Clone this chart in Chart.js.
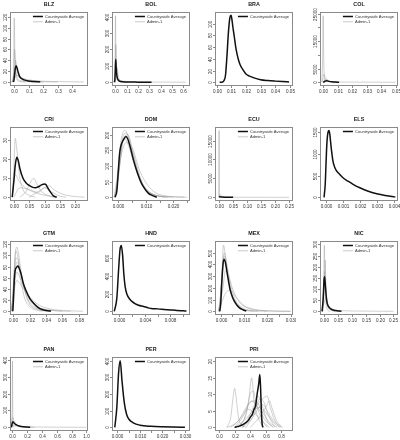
<!DOCTYPE html>
<html lang="en">
<head>
<meta charset="UTF-8">
<title>Density by country</title>
<script src="https://cdn.jsdelivr.net/npm/chart.js"></script>
<style>
  body { margin: 0; background: #fff; }
  #wrap { position: relative; width: 400px; height: 440px; overflow: hidden; }
  #wrap canvas { position: absolute; }
</style>
</head>
<body>
<div id="wrap"></div>
<script>
// panel settings, one entry per country
const countries = ['BLZ','BOL','BRA','COL','CRI','DOM','ECU','ELS','GTM','HND','MEX','NIC','PAN','PER','PRI'];
const hasAdmin = [true,true,false,true,true,true,true,false,true,false,true,true,true,false,true];
const xRange = [[-0.02,0.5],[-0.02,0.65],[-0.0005,0.0515],[-0.0015,0.051],[-0.009,0.238],[-0.0019,0.0257],
  [-0.011,0.26],[-0.0003,0.0042],[-0.003,0.09],[-0.001,0.0109],[-0.002,0.0306],[-0.012,0.263],
  [-0.02,1.01],[-0.002,0.0318],[-0.04,0.94]];
const yRange = [[-5.5,127],[-17,422],[-4.6,118],[-1000,25200],[-1.5,36.5],[-9,221],[-700,18300],
  [-60,1590],[-5,124],[-30,785],[-23,592],[-12,311],[-16,412],[-16,416],[-0.8,21]];
const xTicks = [
  [0,0.1,0.2,0.3,0.4],
  [0,0.1,0.2,0.3,0.4,0.5,0.6],
  [0,0.01,0.02,0.03,0.04,0.05],
  [0,0.01,0.02,0.03,0.04,0.05],
  [0,0.05,0.1,0.15,0.2],
  [0,0.005,0.01,0.015,0.02,0.025],
  [0,0.05,0.1,0.15,0.2,0.25],
  [0,0.001,0.002,0.003,0.004],
  [0,0.02,0.04,0.06,0.08],
  [0,0.002,0.004,0.006,0.008,0.01],
  [0,0.005,0.01,0.015,0.02,0.025,0.03],
  [0,0.05,0.1,0.15,0.2,0.25],
  [0,0.2,0.4,0.6,0.8,1.0],
  [0,0.005,0.01,0.015,0.02,0.025,0.03],
  [0,0.2,0.4,0.6,0.8]
];
const xDigits = [1,1,2,2,2,3,2,3,2,3,3,2,1,3,1];
const xLabelEvery = [1,1,1,1,1,2,1,1,1,2,2,1,1,2,1];
const yTicks = [
  [0,20,40,60,80,100,120],
  [0,100,200,300,400],
  [0,20,40,60,80,100],
  [0,5000,10000,15000,20000,25000],
  [0,10,20,30],
  [0,50,100,150,200],
  [0,5000,10000,15000],
  [0,500,1000,1500],
  [0,20,40,60,80,100,120],
  [0,200,400,600],
  [0,100,200,300,400,500],
  [0,50,100,150,200,250,300],
  [0,100,200,300,400],
  [0,100,200,300,400],
  [0,5,10,15,20]
];
const yHidden = [[],[],[],[10000,20000],[],[],[],[],[],[],[],[],[],[],[]];

// countrywide average curves [x, density]
const BLZ_avg = [[-0.005,0],[0,3],[0.005,15],[0.01,26],[0.015,30],[0.02,27],[0.03,17],[0.04,10],[0.05,7],[0.07,4],[0.1,2],[0.14,1],[0.18,0.5]];
const BOL_avg = [[-0.005,0],[0,60],[0.004,140],[0.008,90],[0.015,35],[0.03,10],[0.05,4],[0.1,1.5],[0.2,0.5],[0.32,0]];
const BRA_avg = [[0.002,0],[0.004,0.5],[0.005,3],[0.006,12],[0.007,45],[0.008,85],[0.009,110],[0.0098,114],[0.0105,105],
  [0.011,95],[0.012,78],[0.013,60],[0.014,47],[0.015,37],[0.016,30],[0.018,21],[0.02,14],[0.022,11],[0.025,8],[0.03,4.5],
  [0.035,3],[0.04,2],[0.045,1.2],[0.0495,0.6]];
const COL_avg = [[0,0],[0.001,250],[0.002,550],[0.003,480],[0.004,320],[0.006,150],[0.008,60],[0.011,0]];
const CRI_avg = [[-0.005,0],[0,8],[0.005,17],[0.01,21],[0.015,19],[0.02,15],[0.03,10],[0.04,7.5],[0.05,6.2],[0.06,5.3],
  [0.07,5],[0.08,5.5],[0.09,6.5],[0.1,7],[0.105,6.5],[0.11,5],[0.12,2.5],[0.13,0.5],[0.14,0]];
const DOM_avg = [[-0.0012,0],[-0.0005,20],[0,80],[0.0005,140],[0.001,165],[0.002,185],[0.0028,194],[0.0035,185],[0.0045,155],
  [0.0055,120],[0.0065,90],[0.0079,55],[0.009,35],[0.0109,13],[0.0125,5],[0.014,0]];
const ECU_avg = [[0,0],[0.002,150],[0.005,120],[0.01,60],[0.02,20],[0.035,5],[0.05,0]];
const ELS_avg = [[-0.00012,0],[-0.00005,300],[0,800],[0.00005,1250],[0.00012,1500],[0.00017,1530],[0.00022,1450],[0.0003,1150],
  [0.0004,850],[0.0005,700],[0.0006,620],[0.0008,530],[0.001,450],[0.0013,370],[0.0016,300],[0.002,220],[0.0025,140],
  [0.003,85],[0.0035,45],[0.004,15],[0.0041,10]];
const GTM_avg = [[-0.0008,0],[0,20],[0.001,55],[0.002,72],[0.004,79],[0.0055,81],[0.007,77],[0.0095,66],[0.012,50],[0.016,35],
  [0.02,23],[0.025,14],[0.03,7],[0.035,3],[0.04,1.2],[0.046,0.3]];
const HND_avg = [[-0.0008,0],[-0.0004,150],[-0.0001,500],[0.0001,700],[0.0003,745],[0.0005,640],[0.0007,420],[0.0009,280],
  [0.0012,190],[0.0016,140],[0.002,110],[0.0025,85],[0.003,70],[0.0038,55],[0.0045,40],[0.005,32],[0.006,28],[0.007,22],
  [0.008,16],[0.009,10],[0.01,6],[0.0105,4]];
const MEX_avg = [[-0.0004,0],[0,60],[0.0005,250],[0.001,400],[0.0015,445],[0.002,420],[0.003,300],[0.004,190],[0.005,125],
  [0.006,82],[0.007,52],[0.008,32],[0.009,18],[0.01,9],[0.011,3]];
const NIC_avg = [[-0.008,0],[-0.004,60],[-0.001,140],[0.001,155],[0.003,130],[0.006,80],[0.009,45],[0.012,30],[0.018,17],
  [0.025,10],[0.035,5],[0.045,3],[0.055,1.5],[0.062,0.5]];
const PAN_avg = [[-0.015,0],[-0.005,20],[0.005,33],[0.02,26],[0.04,18],[0.06,13],[0.09,8],[0.12,5],[0.15,3],[0.2,1.5],[0.24,0.5]];
const PER_avg = [[-0.0012,0],[-0.0003,120],[0.0005,330],[0.0012,400],[0.002,280],[0.003,150],[0.004,80],[0.005,50],[0.007,27],
  [0.01,13],[0.015,6],[0.02,3],[0.025,1.5],[0.03,0.5]];
const PRI_avg = [[0.2,0],[0.25,0.3],[0.3,0.8],[0.35,1.5],[0.38,2.2],[0.4,3],[0.43,4],[0.45,5.5],[0.47,6.5],[0.49,10],
  [0.51,13],[0.525,16],[0.535,12],[0.545,5],[0.555,1],[0.565,0]];

// Admin-1 curves
const BLZ_adm = [
  [[-0.008,0],[-0.002,30],[0.002,118],[0.006,60],[0.01,20],[0.02,5],[0.04,1],[0.08,0]],
  [[-0.01,0],[0,20],[0.004,60],[0.01,35],[0.02,10],[0.04,3],[0.1,0.5],[0.2,0]],
  [[-0.01,0],[0.005,25],[0.012,40],[0.02,25],[0.04,8],[0.08,2],[0.15,0]],
  [[-0.02,0],[0,5],[0.02,12],[0.05,8],[0.1,4],[0.2,1.5],[0.3,0.8],[0.48,0]],
  [[-0.01,0],[0.01,15],[0.03,10],[0.06,5],[0.1,2],[0.2,0.5],[0.3,0]]
];
const BOL_adm = [
  [[-0.005,0],[-0.001,200],[0.002,405],[0.005,200],[0.01,40],[0.03,5],[0.06,0]],
  [[-0.01,0],[0,100],[0.005,230],[0.012,80],[0.03,10],[0.08,0]],
  [[-0.01,0],[0.005,60],[0.015,90],[0.03,30],[0.06,5],[0.12,0]],
  [[-0.02,0],[0.01,20],[0.05,8],[0.15,3],[0.3,1],[0.62,0]]
];
const COL_adm = [
  [[-0.001,0],[-0.0004,8000],[0,24200],[0.0004,8000],[0.001,0]],
  [[0,0],[0.002,1200],[0.005,300],[0.02,50],[0.05,0]],
  [[-0.0005,0],[0.0005,3000],[0.0015,1500],[0.004,200],[0.01,0]]
];
const CRI_adm = [
  [[-0.005,0],[0,15],[0.005,31],[0.01,25],[0.02,10],[0.03,4],[0.05,1],[0.07,0]],
  [[0.02,0],[0.04,3],[0.055,8],[0.065,10],[0.075,7],[0.09,3],[0.11,1],[0.13,0]],
  [[0.05,0],[0.08,3],[0.1,5],[0.115,6],[0.13,4],[0.16,1.5],[0.2,0.3],[0.23,0]],
  [[0,0],[0.02,5],[0.05,4],[0.08,2.5],[0.1,5],[0.12,3],[0.15,0.5],[0.17,0]],
  [[-0.005,0],[0.005,12],[0.015,9],[0.03,6],[0.06,3],[0.1,1],[0.14,0]]
];
const DOM_adm = [
  [[-0.0015,0],[0,90],[0.001,180],[0.0025,213],[0.004,180],[0.006,110],[0.008,55],[0.011,15],[0.015,3],[0.02,0]],
  [[-0.001,0],[0.0005,120],[0.002,200],[0.003,205],[0.005,150],[0.007,85],[0.01,25],[0.014,5],[0.018,0]],
  [[-0.001,0],[0.001,130],[0.003,175],[0.005,160],[0.008,80],[0.012,25],[0.016,6],[0.024,0]],
  [[-0.0015,0],[0,60],[0.0015,170],[0.0035,200],[0.0055,140],[0.0085,50],[0.012,12],[0.02,1],[0.025,0]],
  [[-0.001,0],[0.0005,100],[0.002,190],[0.0035,170],[0.006,100],[0.009,40],[0.013,8],[0.017,0]]
];
const ECU_adm = [
  [[-0.001,0],[0,17600],[0.001,0]],
  [[0,0],[0.003,800],[0.01,200],[0.05,30],[0.25,0]]
];
const GTM_adm = [
  [[-0.002,0],[0,50],[0.002,100],[0.004,115],[0.006,105],[0.01,65],[0.015,30],[0.02,12],[0.03,3],[0.04,0]],
  [[-0.002,0],[0,40],[0.003,95],[0.006,90],[0.01,60],[0.015,32],[0.02,15],[0.03,4],[0.045,0]],
  [[-0.002,0],[0.001,45],[0.004,70],[0.008,60],[0.014,38],[0.02,22],[0.03,8],[0.045,2],[0.06,0]],
  [[-0.001,0],[0.001,70],[0.003,108],[0.005,100],[0.009,55],[0.014,22],[0.02,8],[0.03,1],[0.035,0]],
  [[-0.003,0],[0,30],[0.004,55],[0.01,45],[0.02,25],[0.03,12],[0.045,4],[0.065,1],[0.085,0]],
  [[-0.002,0],[0.001,60],[0.004,88],[0.008,75],[0.013,45],[0.02,20],[0.03,6],[0.05,1],[0.07,0]]
];
const MEX_adm = [
  [[-0.0005,0],[0.0005,300],[0.0012,565],[0.002,480],[0.003,320],[0.005,120],[0.008,30],[0.012,5],[0.016,0]],
  [[-0.0008,0],[0.0005,250],[0.0015,500],[0.0025,420],[0.004,250],[0.006,110],[0.009,35],[0.013,8],[0.02,0]],
  [[-0.001,0],[0.001,200],[0.002,350],[0.0035,300],[0.005,200],[0.008,80],[0.012,25],[0.018,5],[0.03,0]],
  [[-0.0005,0],[0.0008,380],[0.0015,470],[0.0025,380],[0.004,200],[0.007,60],[0.01,15],[0.014,0]],
  [[-0.001,0],[0.002,150],[0.004,180],[0.007,110],[0.01,50],[0.015,15],[0.022,3],[0.03,0]]
];
const NIC_adm = [
  [[-0.006,0],[-0.002,150],[0,296],[0.002,200],[0.005,60],[0.01,10],[0.02,0]],
  [[-0.008,0],[-0.003,80],[0.001,180],[0.004,120],[0.01,40],[0.02,10],[0.04,2],[0.06,0]],
  [[-0.01,0],[0,40],[0.005,60],[0.015,25],[0.03,8],[0.06,3],[0.15,1],[0.25,0]],
  [[-0.005,0],[0,100],[0.003,230],[0.006,110],[0.012,25],[0.025,4],[0.04,0]]
];
const PAN_adm = [
  [[-0.01,0],[-0.003,150],[0,395],[0.003,150],[0.01,0]],
  [[-0.02,0],[0,60],[0.02,40],[0.06,15],[0.12,4],[0.2,1],[0.3,0]],
  [[-0.02,0],[0.01,10],[0.05,8],[0.1,5],[0.2,3],[0.4,1.5],[0.7,0.8],[1.0,0]]
];
const PRI_adm = [
  [[0.1,0],[0.15,3],[0.18,9],[0.2,11.8],[0.22,9],[0.25,3],[0.3,0.5],[0.35,0]],
  [[0.25,0],[0.33,3],[0.38,8],[0.42,15],[0.45,8],[0.5,3],[0.58,0]],
  [[0.3,0],[0.4,3],[0.5,7],[0.58,9],[0.62,9.5],[0.66,6],[0.72,2],[0.8,0]],
  [[0.15,0],[0.25,2],[0.35,6],[0.42,8],[0.5,6],[0.6,2],[0.7,0]],
  [[0.2,0],[0.3,3],[0.4,7.5],[0.47,8],[0.55,5],[0.65,1.5],[0.75,0]],
  [[0.3,0],[0.42,2.5],[0.5,5.5],[0.56,7],[0.62,5],[0.7,2],[0.8,0]],
  [[0.1,0],[0.2,1],[0.3,3.5],[0.37,5.5],[0.45,4.5],[0.55,2],[0.65,0]],
  [[0.35,0],[0.45,4],[0.52,8.5],[0.57,8],[0.63,4],[0.72,0]],
  [[0.25,0],[0.35,4],[0.4,10],[0.44,11],[0.48,7],[0.56,2],[0.62,0]],
  [[0.4,0],[0.5,2.5],[0.6,6],[0.65,8],[0.68,6],[0.74,2],[0.82,0]],
  [[0.2,0],[0.32,2],[0.44,5],[0.52,6],[0.6,4.5],[0.7,1.5],[0.78,0]],
  [[0.3,0],[0.38,3],[0.45,6.5],[0.5,9.5],[0.55,7],[0.62,2],[0.7,0]]
];

const avgCurves = [BLZ_avg,BOL_avg,BRA_avg,COL_avg,CRI_avg,DOM_avg,ECU_avg,ELS_avg,GTM_avg,HND_avg,MEX_avg,NIC_avg,PAN_avg,PER_avg,PRI_avg];
const admCurves = [BLZ_adm,BOL_adm,[],COL_adm,CRI_adm,DOM_adm,ECU_adm,[],GTM_adm,[],MEX_adm,NIC_adm,PAN_adm,[],PRI_adm];

// layout of the 4x4 grid (plot box corners)
const BOX_LEFT = [11, 113, 216, 321];
const BOX_TOP = [13, 128, 242, 358];
const BOX_W = 76, BOX_H = 72;
const PAD = { left: 12, top: 13, right: 4, bottom: 11 };
const FONT = '"Liberation Sans", Arial, sans-serif';
const GREY = 'rgba(150,150,150,0.45)';

const toXY = pts => pts.map(p => ({ x: p[0], y: p[1] }));

// draws the R-style box, axes, title and legend
const panelDecor = {
  id: 'panelDecor',
  afterDraw(chart, args, o) {
    const { ctx, chartArea: a, scales: { x, y } } = chart;
    const i = o.idx;
    ctx.save();
    ctx.strokeStyle = '#8a8a8a';
    ctx.lineWidth = 1;
    ctx.strokeRect(a.left - 0.5, a.top - 0.5, a.width + 1, a.height + 1);

    ctx.fillStyle = '#333';
    ctx.font = '4.6px ' + FONT;
    ctx.textAlign = 'center';
    ctx.textBaseline = 'middle';
    xTicks[i].forEach((v, k) => {
      const px = Math.round(x.getPixelForValue(v)) + 0.5;
      ctx.beginPath();
      ctx.moveTo(px, a.bottom + 0.5);
      ctx.lineTo(px, a.bottom + 3);
      ctx.stroke();
      if (k % xLabelEvery[i] === 0) ctx.fillText(v.toFixed(xDigits[i]), px, a.bottom + 6.5);
    });
    yTicks[i].forEach(v => {
      const py = Math.round(y.getPixelForValue(v)) + 0.5;
      ctx.beginPath();
      ctx.moveTo(a.left - 0.5, py);
      ctx.lineTo(a.left - 3, py);
      ctx.stroke();
      if (yHidden[i].includes(v)) return;
      ctx.save();
      ctx.translate(a.left - 5.5, py);
      ctx.rotate(-Math.PI / 2);
      ctx.fillText(String(v), 0, 0);
      ctx.restore();
    });

    ctx.font = 'bold 5.4px ' + FONT;
    ctx.fillStyle = '#222';
    ctx.fillText(countries[i], (a.left + a.right) / 2, a.top - 8.5);

    // legend, top right inside the box
    const items = [['Countrywide Average', '#111', 1.5]];
    if (hasAdmin[i]) items.push(['Admin-1', '#c8c8c8', 1]);
    ctx.font = '4.1px ' + FONT;
    ctx.textAlign = 'left';
    const tw = ctx.measureText(items[0][0]).width;
    const tx = a.right - 3 - tw;
    items.forEach((it, k) => {
      const ly = a.top + 3.5 + k * 5.3;
      ctx.strokeStyle = it[1];
      ctx.lineWidth = it[2];
      ctx.beginPath();
      ctx.moveTo(tx - 12, ly);
      ctx.lineTo(tx - 2, ly);
      ctx.stroke();
      ctx.fillStyle = '#333';
      ctx.fillText(it[0], tx, ly);
    });
    ctx.restore();
  }
};

const wrap = document.getElementById('wrap');
countries.forEach((name, i) => {
  const col = i % 4, row = Math.floor(i / 4);
  const cv = document.createElement('canvas');
  cv.width = BOX_W + PAD.left + PAD.right;
  cv.height = BOX_H + PAD.top + PAD.bottom;
  cv.style.left = (BOX_LEFT[col] - PAD.left) + 'px';
  cv.style.top = (BOX_TOP[row] - PAD.top) + 'px';
  wrap.appendChild(cv);

  const datasets = [{
    label: 'Countrywide Average',
    data: toXY(avgCurves[i]),
    borderColor: '#111',
    borderWidth: 1.5
  }];
  admCurves[i].forEach(c => datasets.push({
    label: 'Admin-1',
    data: toXY(c),
    borderColor: GREY,
    borderWidth: 1
  }));

  new Chart(cv.getContext('2d'), {
    type: 'line',
    data: { datasets },
    options: {
      responsive: false,
      animation: false,
      layout: { padding: PAD },
      elements: {
        point: { radius: 0 },
        line: { cubicInterpolationMode: 'monotone', fill: false }
      },
      scales: {
        x: { type: 'linear', min: xRange[i][0], max: xRange[i][1], display: false },
        y: { type: 'linear', min: yRange[i][0], max: yRange[i][1], display: false }
      },
      plugins: {
        legend: { display: false },
        tooltip: { enabled: false },
        panelDecor: { idx: i }
      }
    },
    plugins: [panelDecor]
  });
});
</script>
</body>
</html>
